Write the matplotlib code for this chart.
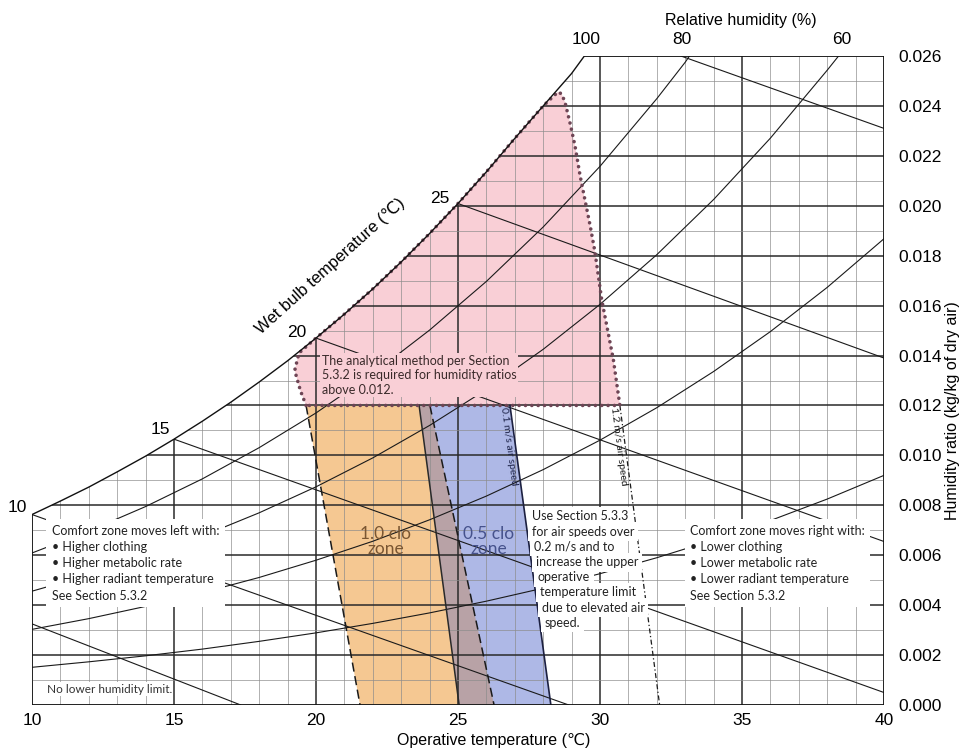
import numpy as np
import matplotlib.pyplot as plt
from matplotlib.patches import Polygon

# ---- data ----
# saturation (100 % RH) curve
sat_t = [10, 11, 12, 13, 14, 15, 16, 17, 18, 19, 20, 21, 22, 23, 24, 25, 26, 27, 28, 29, 29.45]
sat_w = [0.00763, 0.00817, 0.00873, 0.00934, 0.00997, 0.01065, 0.01137, 0.01213, 0.01294,
         0.01379, 0.0147, 0.01566, 0.01667, 0.01775, 0.01889, 0.02009, 0.02136, 0.0227,
         0.0240, 0.0253, 0.0260]

# relative humidity curves
rh80_t = [10, 12, 14, 16, 18, 20, 22, 24, 26, 28, 30, 32, 33, 33.15]
rh80_w = [0.00609, 0.00697, 0.00795, 0.00906, 0.01031, 0.0117, 0.01327, 0.01502, 0.01697,
          0.01915, 0.02158, 0.02429, 0.02575, 0.0260]
rh60_t = [10, 12, 14, 16, 18, 20, 22, 24, 26, 28, 30, 32, 34, 36, 38, 38.4]
rh60_w = [0.00456, 0.00521, 0.00595, 0.00677, 0.0077, 0.00874, 0.0099, 0.0112, 0.01264,
          0.01425, 0.01605, 0.01804, 0.02025, 0.02271, 0.02543, 0.0260]
rh40_t = [10, 12, 14, 16, 18, 20, 22, 24, 26, 28, 30, 32, 34, 36, 38, 40]
rh40_w = [0.00303, 0.00346, 0.00395, 0.0045, 0.00511, 0.0058, 0.00656, 0.00742, 0.00837,
          0.00943, 0.01061, 0.01191, 0.01336, 0.01496, 0.01673, 0.01868]
rh20_t = [10, 12, 14, 16, 18, 20, 22, 24, 26, 28, 30, 32, 34, 36, 38, 40]
rh20_w = [0.00151, 0.00173, 0.00197, 0.00224, 0.00255, 0.00289, 0.00327, 0.00369, 0.00416,
          0.00468, 0.00526, 0.0059, 0.00661, 0.00739, 0.00825, 0.0092]
rh_label_t = [29.5, 32.9, 38.5]
rh_labels = ['100', '80', '60']

# wet bulb lines (start / end)
wb_t0 = [10, 10, 15, 20, 25, 32.85]
wb_w0 = [0.00325, 0.00763, 0.01065, 0.0147, 0.02009, 0.026]
wb_t1 = [17.35, 28.9, 40, 40, 40, 40]
wb_w1 = [0.0, 0.0, 0.0005, 0.00655, 0.0139, 0.0231]
wb_labels = ['', '10', '15', '20', '25', '']
wb_label_dx = [0, -15, -14, -19, -18, 0]
wb_label_dy = [0, 7, 10, 6, 5, 0]

# zone above 0.012 (analytical method)
pink_t = [19.65, 19.45, 19.25, 19.4, 20, 21, 22, 23, 24, 25, 26, 27, 28, 28.52, 28.65,
          28.77, 28.94, 29.12, 29.30, 29.65, 29.82, 30.06, 30.47, 30.7]
pink_w = [0.012, 0.0126, 0.0134, 0.0141, 0.0147, 0.01566, 0.01667, 0.01775, 0.01889,
          0.02009, 0.02136, 0.0227, 0.0240, 0.02456, 0.02448, 0.02414, 0.02334, 0.0224,
          0.0212, 0.01922, 0.01817, 0.01624, 0.01384, 0.012]

# comfort zones: top-left, top-right, bottom-right, bottom-left
clo10_t = [19.65, 24.01, 26.27, 21.55]
clo05_t = [23.63, 26.83, 28.27, 25.04]
zone_w = [0.012, 0.012, 0.0, 0.0]

# 1.2 m/s air speed limit
air12_t = [30.7, 32.1]
air12_w = [0.012, 0.0]

x_ticks = [10, 15, 20, 25, 30, 35, 40]
y_ticks = [0.000, 0.002, 0.004, 0.006, 0.008, 0.010, 0.012, 0.014, 0.016, 0.018,
           0.020, 0.022, 0.024, 0.026]

AX_FONT = ['Liberation Sans', 'DejaVu Sans']
NOTE_FONT = ['Lato', 'DejaVu Sans']

fig = plt.figure(figsize=(9.64, 7.51), dpi=100)
ax = fig.add_axes([32 / 964, 46 / 751, 852 / 964, 649 / 751])
ax.set_xlim(10, 40)
ax.set_ylim(0, 0.026)
for s in ax.spines.values():
    s.set_visible(False)

# chart outline, also used as clip path
border = np.column_stack([[10] + sat_t + [40, 40], [0] + sat_w + [0.026, 0]])
chart = Polygon(border, closed=True, fill=False, ec='#111111', lw=1.0, zorder=6)
ax.add_patch(chart)

# zone fills
ax.fill(pink_t, pink_w, color='#f9cfd6', lw=0, zorder=1)
ax.fill(clo10_t, zone_w, color='#f5c892', lw=0, zorder=1)
ax.fill(clo05_t, zone_w, color='#aeb8e6', lw=0, zorder=1)
ax.fill([clo05_t[0], clo10_t[1], clo10_t[2], clo05_t[3]], zone_w, color='#b8a2a6',
        lw=0, zorder=1)

# grid
t_all = np.arange(10, 41)
w_all = np.arange(0, 0.0265, 0.001)
t_minor = [t for t in t_all if t % 5]
w_minor = [w for i, w in enumerate(w_all) if i % 2]
w_major = [w for i, w in enumerate(w_all) if i % 2 == 0]
ax.vlines(t_minor, 0, 0.026, colors='#8c8c8c', lw=0.6, alpha=0.8, zorder=2, clip_path=chart)
ax.vlines(x_ticks, 0, 0.026, colors='#2a2a2a', lw=1.1, zorder=2, clip_path=chart)
ax.hlines(w_minor, 10, 40, colors='#8c8c8c', lw=0.6, alpha=0.8, zorder=2, clip_path=chart)
ax.hlines(w_major, 10, 40, colors='#2a2a2a', lw=1.1, zorder=2, clip_path=chart)

# RH curves and wet bulb lines
for tt, ww in [(rh80_t, rh80_w), (rh60_t, rh60_w), (rh40_t, rh40_w), (rh20_t, rh20_w)]:
    ax.plot(tt, ww, color='#1a1a1a', lw=0.8, zorder=3, clip_path=chart)
for i in range(len(wb_t0)):
    ax.plot([wb_t0[i], wb_t1[i]], [wb_w0[i], wb_w1[i]], color='#1a1a1a', lw=0.8,
            zorder=3, clip_path=chart)
    if wb_labels[i]:
        ax.annotate(wb_labels[i], (wb_t0[i], wb_w0[i]), xytext=(wb_label_dx[i], wb_label_dy[i]),
                    textcoords='offset pixels', ha='center', va='center', fontsize=12.5,
                    family=AX_FONT, annotation_clip=False)
for t, lab in zip(rh_label_t, rh_labels):
    ax.annotate(lab, (t, 0.026), xytext=(0, 16), textcoords='offset pixels', ha='center',
                va='center', fontsize=12.5, family=AX_FONT, annotation_clip=False)

# zone borders
ax.plot([clo10_t[0], clo10_t[3]], [zone_w[0], zone_w[3]], color='#1a1a1a', lw=1.1,
        ls=(0, (6, 3)), zorder=4)
ax.plot([clo10_t[1], clo10_t[2]], [zone_w[1], zone_w[2]], color='#1a1a1a', lw=1.1,
        ls=(0, (6, 3)), zorder=4)
ax.plot([clo05_t[0], clo05_t[3]], [zone_w[0], zone_w[3]], color='#2a2a2a', lw=1.1, zorder=4)
ax.plot([clo05_t[1], clo05_t[2]], [zone_w[1], zone_w[2]], color='#1c2040', lw=1.2, zorder=4)
ax.plot(pink_t + [pink_t[0]], pink_w + [pink_w[0]], color='#6e4555', lw=2.6,
        ls=(0, (0.01, 1.75)), dash_capstyle='round', zorder=5)
ax.plot(air12_t, air12_w, color='#1a1a1a', lw=0.9, ls=(0, (4, 2, 1, 2)), zorder=4)

# notes
ax.text(20.2, 0.01404, 'The analytical method per Section\n5.3.2 is required for humidity ratios\nabove 0.012.',
        ha='left', va='top', fontsize=9, family=NOTE_FONT, color='#3a2a2a', linespacing=1.25,
        zorder=7, bbox=dict(facecolor='#f9cfd6', edgecolor='none', pad=1))
ax.text(10.7, 0.00722, 'Comfort zone moves left with:\n\u2022 Higher clothing\n\u2022 Higher metabolic rate\n'
        '\u2022 Higher radiant temperature\nSee Section 5.3.2', ha='left', va='top', fontsize=9,
        family=NOTE_FONT, color='#222222', linespacing=1.42, zorder=7,
        bbox=dict(facecolor='white', edgecolor='none', pad=4))
ax.text(33.17, 0.00722, 'Comfort zone moves right with:\n\u2022 Lower clothing\n\u2022 Lower metabolic rate\n'
        '\u2022 Lower radiant temperature\nSee Section 5.3.2', ha='left', va='top', fontsize=9,
        family=NOTE_FONT, color='#222222', linespacing=1.42, zorder=7,
        bbox=dict(facecolor='white', edgecolor='none', pad=4))
use_lines = ['Use Section 5.3.3', 'for air speeds over', '0.2 m/s and to', 'increase the upper',
             'operative', 'temperature limit', 'due to elevated air', 'speed.']
use_dx = [0, 0, 2, 4, 6, 8, 10, 13]
for i, line in enumerate(use_lines):
    ax.annotate(line, (27.6, 0.007555), xytext=(use_dx[i], -15.2 * i), textcoords='offset pixels',
                ha='left', va='center', fontsize=9, family=NOTE_FONT, color='#222222', zorder=7,
                bbox=dict(facecolor='white', edgecolor='none', pad=2.5))
ax.text(10.52, 0.00064, 'No lower humidity limit.', ha='left', va='center', fontsize=8.5,
        family=NOTE_FONT, color='#333333', zorder=7,
        bbox=dict(facecolor='white', edgecolor='none', pad=1))
ax.text(22.46, 0.00654, '1.0 clo\nzone', ha='center', va='center', fontsize=12.5,
        family=NOTE_FONT, color='#7a5632', linespacing=0.95, zorder=7)
ax.text(26.09, 0.00654, '0.5 clo\nzone', ha='center', va='center', fontsize=12.5,
        family=NOTE_FONT, color='#46528c', linespacing=0.95, zorder=7)
ax.text(26.80, 0.01035, '0.1 m/s air speed', ha='center', va='center', fontsize=7.5,
        rotation=-82.3, rotation_mode='anchor', family=NOTE_FONT, color='#1c2248', zorder=7)
ax.text(30.67, 0.01035, '1.2 m/s air speed', ha='center', va='center', fontsize=7.5,
        rotation=-82.5, rotation_mode='anchor', family=NOTE_FONT, color='#1a1a1a', zorder=7)
ax.text(20.49, 0.01757, 'Wet bulb temperature (\u2103)', ha='center', va='center', fontsize=12,
        rotation=42, rotation_mode='anchor', family=AX_FONT)

# axes
ax.set_xticks(x_ticks)
ax.set_xticklabels([str(t) for t in x_ticks], family=AX_FONT, fontsize=12.5)
ax.yaxis.tick_right()
ax.set_yticks(y_ticks)
ax.set_yticklabels(['%.3f' % w for w in y_ticks], family=AX_FONT, fontsize=12.5)
ax.tick_params(axis='x', length=0, pad=6)
ax.tick_params(axis='y', length=0, pad=10)

fig.text(494 / 964, 1 - 740 / 751, 'Operative temperature (\u2103)', ha='center', va='center',
         fontsize=11.5, family=AX_FONT)
fig.text(741 / 964, 1 - 20 / 751, 'Relative humidity (%)', ha='center', va='center',
         fontsize=11.5, family=AX_FONT)
fig.text(952 / 964, 1 - 411 / 751, 'Humidity ratio (kg/kg of dry air)', ha='center', va='center',
         rotation=90, fontsize=11.5, family=AX_FONT)

fig.savefig('out.png', dpi=100, facecolor='white')
